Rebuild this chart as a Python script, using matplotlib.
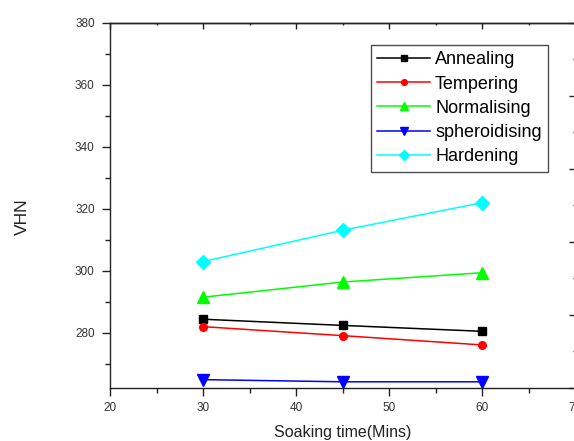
import matplotlib
matplotlib.use("Agg")
import matplotlib.pyplot as plt
from matplotlib.ticker import MultipleLocator

plt.rcParams['font.family'] = ['Liberation Sans', 'DejaVu Sans']

soaking_time = [30, 45, 60]
annealing = [284.3, 282.3, 280.4]
tempering = [281.9, 279.0, 276.0]
normalising = [291.4, 296.3, 299.3]
spheroidising = [264.8, 264.1, 264.1]
hardening = [302.9, 313.0, 321.9]

series_names = ["Annealing", "Tempering", "Normalising", "spheroidising", "Hardening"]
series_values = [annealing, tempering, normalising, spheroidising, hardening]
colors = ["#000000", "#FF0000", "#00FF00", "#0000FF", "#00FFFF"]
markers = ["s", "o", "^", "v", "D"]
msizes = [6, 5.5, 8, 8, 7]

x_ticks = [20, 30, 40, 50, 60, 70]
y_ticks = [280, 300, 320, 340, 360, 380]

fig = plt.figure(figsize=(5.74, 4.41), dpi=100)
W, H = 574, 441
left, right, top, bottom = 110, 575, 22.7, 388
ax = fig.add_axes([left / W, 1 - bottom / H, (right - left) / W, (bottom - top) / H])

for name, vals, c, m, ms in zip(series_names, series_values, colors, markers, msizes):
    ax.plot(soaking_time, vals, color=c, marker=m, markersize=ms, linewidth=1.1,
            markeredgecolor=c, markerfacecolor=c, label=name)

ax.set_xlim(20, 70)
ax.set_ylim(262.1, 380)
ax.set_xticks(x_ticks)
ax.set_yticks(y_ticks)
ax.xaxis.set_minor_locator(MultipleLocator(5))
ax.yaxis.set_minor_locator(MultipleLocator(10))

for s in ax.spines.values():
    s.set_linewidth(1.0)
    s.set_color('#222222')

ax.tick_params(axis='both', which='major', direction='out', length=6, width=1.0,
               labelsize=8.5, colors='#222222', labelcolor='#333333')
ax.tick_params(axis='y', which='major', pad=5)
ax.tick_params(axis='x', which='major', pad=4)
ax.tick_params(axis='both', which='minor', direction='out', length=3.5, width=1.0, colors='#222222')

# top ticks (inward), mirroring bottom
axt = ax.secondary_xaxis('top')
axt.set_xticks(x_ticks)
axt.xaxis.set_minor_locator(MultipleLocator(5))
axt.tick_params(which='major', direction='in', length=4.5, width=1.0, labeltop=False, colors='#222222')
axt.tick_params(which='minor', direction='in', length=1.5, width=1.0, colors='#222222')
axt.spines['top'].set_linewidth(1.0)

# right ticks (inward)
axr = ax.twinx()
axr.set_ylim(0, 5)
axr.set_yticks([0, 1, 2, 3, 4, 5])
axr.yaxis.set_minor_locator(MultipleLocator(0.5))
axr.tick_params(which='major', direction='in', length=4, width=1.0, labelright=False, colors='#222222')
axr.tick_params(which='minor', direction='in', length=1.5, width=1.0, colors='#222222')
for s in axr.spines.values():
    s.set_visible(False)

ax.set_xlabel("Soaking time(Mins)", fontsize=11.5, color='#222222')
ax.xaxis.set_label_coords(0.5, -0.101)
ax.set_ylabel("VHN", fontsize=12.5, color='#222222')
ax.yaxis.set_label_coords(-0.172, 0.468)

leg = ax.legend(loc='upper left',
                bbox_to_anchor=((371 - left) / (right - left), (bottom - 45) / (bottom - top)),
                borderaxespad=0, fontsize=13, frameon=True, fancybox=False, edgecolor='#222222',
                handlelength=2.9, handletextpad=0.3, labelspacing=0.4, borderpad=0.35,
                markerscale=0.75)
leg.get_frame().set_linewidth(1.0)
leg.set_zorder(5)

fig.savefig("out.png", dpi=100)
